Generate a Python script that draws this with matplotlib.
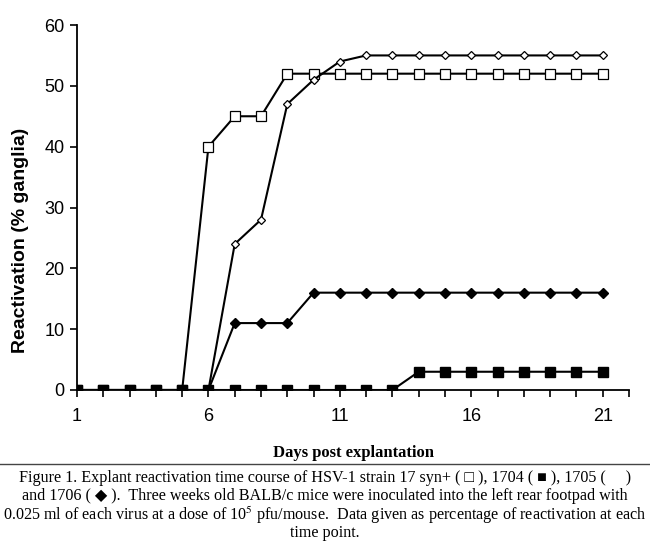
import matplotlib
matplotlib.use("Agg")
import matplotlib.pyplot as plt
from matplotlib.lines import Line2D

days = list(range(1, 22))
strain_17syn = [0, 0, 0, 0, 0, 40, 45, 45, 52, 52, 52, 52, 52, 52, 52, 52, 52, 52, 52, 52, 52]
strain_1704 = [0, 0, 0, 0, 0, 0, 0, 0, 0, 0, 0, 0, 0, 3, 3, 3, 3, 3, 3, 3, 3]
strain_1705 = [0, 0, 0, 0, 0, 0, 24, 28, 47, 51, 54, 55, 55, 55, 55, 55, 55, 55, 55, 55, 55]
strain_1706 = [0, 0, 0, 0, 0, 0, 11, 11, 11, 16, 16, 16, 16, 16, 16, 16, 16, 16, 16, 16, 16]
xtick_labels = [1, 6, 11, 16, 21]
ytick_values = [0, 10, 20, 30, 40, 50, 60]

plt.rcParams['mathtext.fontset'] = 'stix'

fig = plt.figure(figsize=(6.5, 5.51), dpi=100)
ax = fig.add_axes([0.1185, 0.2922, 0.8492, 0.6624])

lw = 1.5
ax.plot(days, strain_17syn, color='black', lw=lw, marker='s', ms=7, mfc='white', mec='black', mew=0.9, zorder=3)
ax.plot(days, strain_1705, color='black', lw=lw, marker='D', ms=4.5, mfc='white', mec='black', mew=0.9, zorder=4)
ax.plot(days, strain_1706, color='black', lw=lw, marker='D', ms=5, mfc='black', mec='black', zorder=5)
ax.plot(days, strain_1704, color='black', lw=lw, marker='s', ms=6.5, mfc='black', mec='black', zorder=6)

ax.set_xlim(1, 22)
ax.set_ylim(0, 60)
ax.spines['top'].set_visible(False)
ax.spines['right'].set_visible(False)
for s in ['left', 'bottom']:
    ax.spines[s].set_linewidth(1.3)
    ax.spines[s].set_zorder(1)

ax.set_xticks(range(1, 23), minor=True)
ax.set_xticks(xtick_labels)
ax.set_xticklabels([str(v) for v in xtick_labels], fontfamily='Liberation Sans', fontsize=13)
ax.set_yticks(ytick_values)
ax.set_yticklabels([str(v) for v in ytick_values], fontfamily='Liberation Sans', fontsize=13)
ax.tick_params(axis='x', which='both', direction='out', length=5, width=1.2, pad=8)
ax.tick_params(axis='y', which='both', direction='out', length=5, width=1.2, pad=4)

ax.set_xlabel('Days post explantation', fontfamily='Liberation Serif', fontweight='bold', fontsize=12)
ax.xaxis.set_label_coords(0.5, -0.15)
ax.set_ylabel('Reactivation (% ganglia)', fontfamily='Liberation Sans', fontweight='bold', fontsize=14)
ax.yaxis.set_label_coords(-0.087, 0.411)

# Rule line above caption
fig.add_artist(Line2D([0.0, 1.0], [1 - 464/551, 1 - 464/551], color='#444444', lw=1.0))

cap_font = ['Liberation Serif', 'DejaVu Sans']
lines = [
    "Figure 1. Explant reactivation time course of HSV-1 strain 17 syn+ ( \u25a1 ), 1704 ( \u25a0 ), 1705 (     )",
    "and 1706 ( \u25c6 ).  Three weeks old BALB/c mice were inoculated into the left rear footpad with",
    "0.025 ml of each virus at a dose of 10$^{5}$ pfu/mouse.  Data given as percentage of reactivation at each",
    "time point.",
]
ys = [478, 496.5, 515, 533]
for t, y in zip(lines, ys):
    fig.text(0.5, 1 - y/551, t, ha='center', va='center', fontfamily=cap_font, fontsize=11.6)

fig.savefig('out.png', dpi=100)
